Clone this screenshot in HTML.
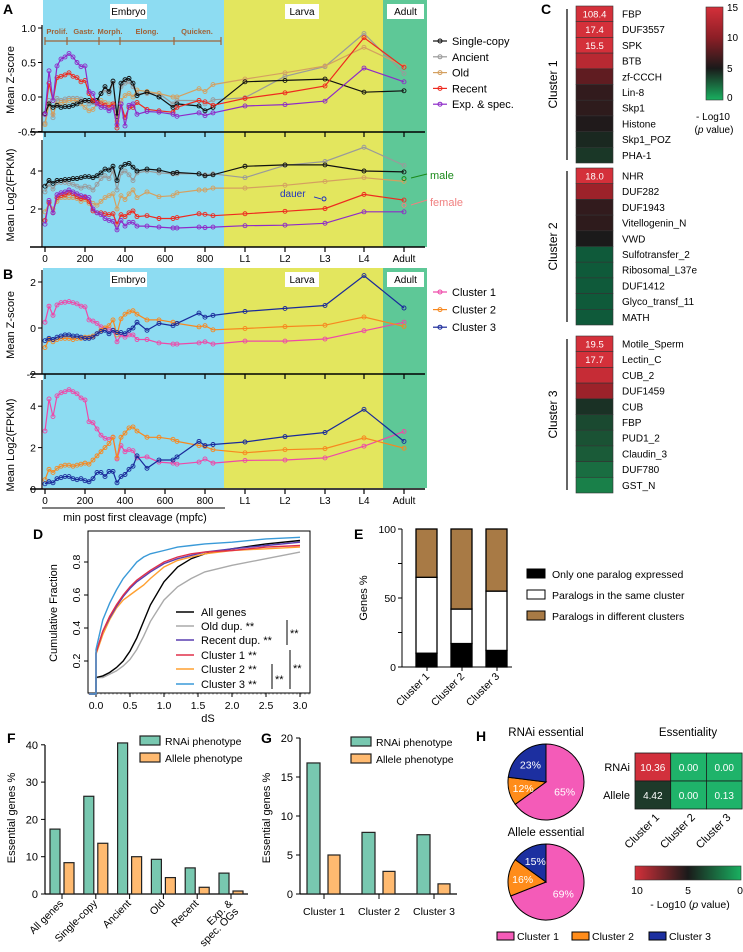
<!DOCTYPE html>
<html><head><meta charset="utf-8"><style>
body{margin:0;background:#fff;}
svg{display:block;font-family:"Liberation Sans",sans-serif;}
</style></head><body>
<svg id="fig" width="743" height="952" viewBox="0 0 743 952" xmlns="http://www.w3.org/2000/svg">
<g font-weight="bold" font-size="14">
<text x="3" y="14">A</text>
<text x="3" y="279">B</text>
<text x="541" y="14">C</text>
<text x="33" y="539">D</text>
<text x="354" y="539">E</text>
<text x="7" y="743">F</text>
<text x="261" y="743">G</text>
<text x="476" y="741">H</text>
</g>
</svg>
<script>
// ===== Panel A/B data =====
const embryoTimes=[0,20,40,60,80,100,120,140,160,180,200,220,240,260,280,300,320,340,360,380,400,420,440,460,510,570,640,660,770,800,840];
const stageLabels=["L1","L2","L3","L4","Adult"];
const xTickLabels=["0","200","400","600","800"];
const seriesANames=["Single-copy","Ancient","Old","Recent","Exp. & spec."];
const zSingle=[-0.24,-0.1,-0.15,-0.12,-0.15,-0.14,-0.14,-0.12,-0.1,-0.07,-0.05,-0.05,-0.06,-0.05,0.05,0.15,0.08,0.23,-0.28,0.2,0.25,0.27,0.2,0.02,0.07,0.0,-0.15,-0.1,-0.13,-0.2,-0.15,0.22,0.24,0.26,0.07,0.09];
const zAncient=[-0.38,-0.05,-0.3,-0.02,-0.05,-0.03,-0.02,-0.02,-0.02,-0.03,-0.05,-0.1,-0.08,-0.05,0.05,0.1,0.05,0.2,-0.3,0.15,0.2,0.22,0.15,0.05,0.05,0.05,-0.1,-0.05,-0.05,-0.1,-0.04,-0.01,0.3,0.44,0.92,0.34];
const zOld=[-0.4,-0.1,-0.25,-0.1,-0.08,-0.08,-0.05,-0.05,-0.05,-0.1,-0.15,-0.2,-0.18,-0.1,-0.05,-0.08,-0.1,-0.12,-0.35,-0.05,0.02,0.05,0.0,0.1,0.08,0.05,0.0,0.0,0.12,0.08,0.18,0.26,0.35,0.45,0.72,0.45];
const zRecent=[-0.25,0.2,-0.05,0.28,0.3,0.32,0.35,0.3,0.28,0.22,0.24,0.05,-0.05,-0.08,-0.1,-0.12,-0.15,-0.1,-0.45,-0.1,-0.3,-0.15,-0.15,-0.08,-0.18,-0.2,-0.22,-0.15,-0.05,-0.07,-0.12,-0.02,0.06,0.16,0.86,0.43];
const zExp=[-0.25,0.38,-0.05,0.45,0.55,0.58,0.63,0.58,0.5,0.44,0.45,0.08,0.05,-0.1,-0.15,-0.15,-0.2,-0.15,-0.4,-0.1,-0.42,-0.12,-0.1,-0.25,-0.21,-0.22,-0.25,-0.28,-0.23,-0.27,-0.23,-0.13,-0.11,-0.06,0.42,0.22];
const fSingle=[3.2,3.5,3.35,3.5,3.5,3.55,3.55,3.6,3.6,3.65,3.7,3.7,3.65,3.75,3.9,4.1,4.05,4.25,3.5,4.2,4.35,4.4,4.2,4.0,4.1,4.05,3.88,3.92,3.85,3.75,3.8,4.25,4.32,4.32,4.0,3.95];
const fAncient=[2.9,3.3,3.05,3.4,3.4,3.4,3.35,3.3,3.2,3.1,3.2,3.15,3.0,3.3,3.6,3.75,3.6,4.0,3.0,3.9,4.0,3.8,3.5,3.9,4.0,3.9,3.85,3.85,3.85,3.8,3.85,3.65,4.3,4.5,5.25,4.3];
const fOld=[1.85,2.3,2.0,2.4,2.6,2.6,2.6,2.6,2.55,2.4,2.5,2.3,2.3,2.2,2.4,2.6,2.7,2.8,2.0,2.7,2.5,2.8,3.0,2.6,2.9,2.65,2.7,2.85,3.0,3.0,3.1,3.1,3.25,3.45,3.65,3.45];
const fRecent=[1.4,2.35,1.8,2.6,2.7,2.75,2.85,2.8,2.65,2.55,2.6,2.4,1.9,1.8,1.8,1.75,1.7,1.75,1.2,1.7,1.6,1.8,1.9,1.6,1.65,1.5,1.5,1.55,1.75,1.72,1.65,1.75,1.88,2.02,2.77,2.47];
const fExp=[1.2,2.45,1.8,2.75,2.85,2.9,3.0,2.9,2.8,2.7,2.65,2.6,2.0,1.8,1.7,1.5,1.4,1.35,0.9,1.4,1.1,1.3,1.3,1.1,1.1,1.05,1.0,1.0,1.05,1.02,1.05,1.12,1.15,1.25,1.85,1.85];
const dauerValue=2.53, maleValue=3.6, femaleValue=2.2;
const seriesBNames=["Cluster 1","Cluster 2","Cluster 3"];
const zC1=[0.25,0.95,0.55,1.0,1.1,1.12,1.15,1.1,1.05,0.95,0.92,0.35,0.3,0.2,0.05,0.0,-0.05,-0.1,-0.6,-0.3,-0.4,-0.3,-0.3,-0.5,-0.5,-0.65,-0.7,-0.7,-0.65,-0.6,-0.7,-0.57,-0.57,-0.48,-0.12,0.25];
const zC2=[-0.85,-0.5,-0.6,-0.5,-0.45,-0.45,-0.45,-0.5,-0.45,-0.45,-0.4,-0.4,-0.35,-0.25,-0.1,0.0,0.1,0.35,-0.3,0.4,0.6,0.7,0.75,0.6,0.35,0.35,0.25,0.2,0.05,0.1,-0.08,-0.02,0.06,0.12,0.48,0.07];
const zC3=[-0.55,-0.45,-0.5,-0.4,-0.35,-0.3,-0.3,-0.35,-0.35,-0.4,-0.45,-0.45,-0.4,-0.25,-0.15,-0.1,-0.25,-0.1,-0.2,-0.2,-0.25,-0.1,0.0,0.25,-0.1,0.2,0.1,0.2,0.65,0.47,0.55,0.72,0.85,0.98,2.28,0.87];
const fC1=[2.8,4.35,3.5,4.5,4.65,4.7,4.8,4.7,4.6,4.4,4.3,3.25,3.2,2.9,2.6,2.45,2.4,2.5,1.45,2.1,1.8,1.9,1.85,1.5,1.55,1.3,1.25,1.2,1.3,1.45,1.25,1.38,1.4,1.5,2.07,2.78];
const fC2=[0.45,0.95,0.8,1.0,1.1,1.15,1.15,1.1,1.15,1.2,1.25,1.2,1.4,1.6,1.8,2.0,2.2,2.5,1.5,2.5,2.7,2.95,3.0,2.8,2.5,2.5,2.4,2.3,2.1,2.05,1.9,1.75,1.9,1.95,2.47,1.97];
const fC3=[0.25,0.35,0.3,0.5,0.55,0.6,0.6,0.5,0.45,0.5,0.4,0.35,0.5,0.8,0.8,0.6,0.85,0.85,0.3,0.6,0.7,0.95,1.1,1.6,1.0,1.4,1.4,1.55,2.3,2.1,2.15,2.27,2.53,2.73,3.85,2.3];
// ===== Panel C data =====
const domainsC1=["FBP","DUF3557","SPK","BTB","zf-CCCH","Lin-8","Skp1","Histone","Skp1_POZ","PHA-1"];
const pvalsC1=[108.4,17.4,15.5,13,8,6,5.8,5.2,4.5,4];
const domainsC2=["NHR","DUF282","DUF1943","Vitellogenin_N","VWD","Sulfotransfer_2","Ribosomal_L37e","DUF1412","Glyco_transf_11","MATH"];
const pvalsC2=[18.0,11,6,5.8,5,0.8,0.8,0.8,0.8,0.8];
const domainsC3=["Motile_Sperm","Lectin_C","CUB_2","DUF1459","CUB","FBP","PUD1_2","Claudin_3","DUF780","GST_N"];
const pvalsC3=[19.5,17.7,14,11,4.2,3.4,3.1,2.8,2.2,1.6];
// ===== Panel D data =====
const dsGrid=[0,0.1,0.2,0.3,0.4,0.5,0.6,0.7,0.8,1.0,1.2,1.4,1.6,2.0,2.5,3.0];
const cdfAll=[0.1,0.11,0.13,0.16,0.2,0.26,0.34,0.44,0.54,0.68,0.77,0.82,0.85,0.88,0.91,0.93];
const cdfOld=[0.1,0.1,0.12,0.14,0.17,0.21,0.27,0.35,0.44,0.57,0.65,0.7,0.74,0.78,0.82,0.86];
const cdfRecent=[0.25,0.38,0.46,0.53,0.59,0.64,0.68,0.71,0.74,0.79,0.82,0.84,0.86,0.88,0.9,0.92];
const cdfC1=[0.25,0.38,0.47,0.54,0.6,0.65,0.69,0.72,0.75,0.8,0.83,0.85,0.86,0.87,0.89,0.9];
const cdfC2=[0.24,0.36,0.45,0.52,0.57,0.6,0.63,0.66,0.7,0.77,0.81,0.83,0.85,0.87,0.88,0.89];
const cdfC3=[0.27,0.45,0.55,0.63,0.7,0.75,0.8,0.83,0.85,0.87,0.89,0.9,0.91,0.92,0.94,0.95];
const dLegend=["All genes","Old dup. **","Recent dup. **","Cluster 1  **","Cluster 2  **","Cluster 3  **"];
const dYTicks=[0.2,0.4,0.6,0.8];
const dXTicks=[0,0.5,1,1.5,2,2.5,3];
// ===== Panel E data =====
const eCats=["Cluster 1","Cluster 2","Cluster 3"];
const eOnlyOne=[10,17,12];
const eSame=[55,25,43];
const eDiff=[35,58,45];
const eLegend=["Only one paralog expressed","Paralogs in the same cluster","Paralogs in different clusters"];
// ===== Panel F/G data =====
const fCats=["All genes","Single-copy","Ancient","Old","Recent","Exp. &|spec. OGs"];
const fRNAi=[17.4,26.2,40.5,9.3,7.0,5.6];
const fAllele=[8.4,13.6,10.0,4.4,1.8,0.8];
const gCats=["Cluster 1","Cluster 2","Cluster 3"];
const gRNAi=[16.8,7.9,7.6];
const gAllele=[5.0,2.9,1.3];
// ===== Panel H data =====
const pieRNAi=[65,12,23];
const pieAllele=[69,16,15];
const essRows=["RNAi","Allele"];
const essRNAi=[10.36,0.00,0.00];
const essAllele=[4.42,0.00,0.13];

const NS="http://www.w3.org/2000/svg";
const svg=document.getElementById('fig');
function mk(tag,attrs,parent,txt){const e=document.createElementNS(NS,tag);for(const k in attrs)e.setAttribute(k,attrs[k]);if(txt!==undefined)e.textContent=txt;(parent||svg).appendChild(e);return e;}

// ---------- Panels A & B ----------
const stageX=[245,285,325,364,404];
function xT(i){return i<embryoTimes.length?45+0.2*embryoTimes[i]:stageX[i-embryoTimes.length];}
function bg(y0,y1,name){
  const g=mk('g',{});
  
  
  let r=mk('rect',{x:43,y:y0,width:181,height:y1-y0,fill:'#8ddcf2'},g);
  
  
  r=mk('rect',{x:224,y:y0,width:159,height:y1-y0,fill:'#e3e65e'},g);
  
  
  r=mk('rect',{x:383,y:y0,width:44,height:y1-y0,fill:'#5ec897'},g);
  
  
  [["Embryo",110,37],["Larva",285,34],["Adult",387,37]].forEach(s=>{
    const b=mk('rect',{x:s[1],y:y0+4,width:s[2],height:15,fill:'#fff'},g);
    
    
    const t=mk('text',{x:s[1]+s[2]/2,y:y0+15,'font-size':10,'text-anchor':'middle'},g,s[0]);
    
    
  });
}
bg(0,247,'panel-a-background');
bg(268,488,'panel-b-background');

const sb=mk('g',{stroke:'#a0643a','stroke-width':1.2});


mk('line',{x1:45,y1:41,x2:221,y2:41},sb);
[45,67,99,120,174,221].forEach(x=>mk('line',{x1:x,y1:37,x2:x,y2:45},sb));
[["Prolif.",57],["Gastr.",84],["Morph.",110],["Elong.",147],["Quicken.",197]].forEach(s=>{
  const t=mk('text',{x:s[1],y:34,'font-size':7.5,'font-weight':'bold',fill:'#a0643a','text-anchor':'middle'},svg,s[0]);
  
  
});

function yAxis(x,y0,y1,ticks,fn,title,ty,dec){
  const g=mk('g',{});
  
  
  mk('line',{x1:x,y1:y0,x2:x,y2:y1,stroke:'#000','stroke-width':1.2},g);
  ticks.forEach(v=>{const y=fn(v);mk('line',{x1:x-4,y1:y,x2:x,y2:y,stroke:'#000'},g);
    const t=mk('text',{x:x-6,y:y+4,'font-size':10.5,'text-anchor':'end'},g,dec?v.toFixed(1):String(v));
    
    });
  const tt=mk('text',{x:14,y:ty,'font-size':11,'text-anchor':'middle',transform:`rotate(-90 14 ${ty})`},g,title);
  
  
}
const yA1=v=>97-v*69, yA2=v=>247-v*19, yB1=v=>328-v*23, yB2=v=>489-v*20.7;
yAxis(42,25,132,[-0.5,0.0,0.5,1.0],yA1,'Mean Z-score',80,true);
yAxis(42,140,247,[2,4],yA2,'Mean Log2(FPKM)',195,false);
yAxis(42,270,374,[-2,0,2],yB1,'Mean Z-score',325,false);
yAxis(42,380,489,[0,2,4],yB2,'Mean Log2(FPKM)',445,false);

function xAxis(y,labels){
  const g=mk('g',{});
  
  
  mk('line',{x1:30,y1:y,x2:425,y2:y,stroke:'#000','stroke-width':1.5},g);
  const xs=[45,85,125,165,205].concat(stageX);
  const labs=xTickLabels.concat(stageLabels);
  xs.forEach((x,i)=>{mk('line',{x1:x,y1:y,x2:x,y2:y+5,stroke:'#000','stroke-width':1.2},g);
    if(labels){const t=mk('text',{x:x,y:y+15,'font-size':10,'text-anchor':'middle'},g,labs[i]);
    
    }});
}
xAxis(132,false);xAxis(247,true);xAxis(374,false);xAxis(489,true);
const xl=mk('text',{x:135,y:521,'font-size':11,'text-anchor':'middle'},svg,'min post first cleavage (mpfc)');


mk('line',{x1:42,y1:508,x2:225,y2:508,stroke:'#000'});

function series(vals,yf,color,name){
  const g=mk('g',{});
  
  
  const pts=vals.map((v,i)=>xT(i).toFixed(1)+','+yf(v).toFixed(1)).join(' ');
  mk('polyline',{points:pts,fill:'none',stroke:color,'stroke-width':1.2},g);
  vals.forEach((v,i)=>{const c=mk('circle',{cx:xT(i),cy:yf(v),r:2,fill:'none',stroke:color,'stroke-width':0.9},g);
    
    });
}
const colA=['#111','#9a9a9a','#d4a060','#ee2a1f','#8e2bc8'];
[zAncient,zOld,zSingle,zRecent,zExp].forEach((s,k)=>{const idx=[1,2,0,3,4][k];series(s,yA1,colA[idx],'zscore-'+seriesANames[idx].toLowerCase().replace(/[^a-z]+/g,'-'));});
[fAncient,fOld,fSingle,fRecent,fExp].forEach((s,k)=>{const idx=[1,2,0,3,4][k];series(s,yA2,colA[idx],'fpkm-'+seriesANames[idx].toLowerCase().replace(/[^a-z]+/g,'-'));});
const colB=['#ee48a8','#f7881f','#1a2a9a'];
[zC1,zC2,zC3].forEach((s,k)=>series(s,yB1,colB[k],'zscore-cluster-'+(k+1)));
[fC1,fC2,fC3].forEach((s,k)=>series(s,yB2,colB[k],'fpkm-cluster-'+(k+1)));
let e=mk('circle',{cx:324,cy:yA2(dauerValue),r:2,fill:'none',stroke:'#2030c0'});


e=mk('text',{x:280,y:yA2(dauerValue)-2,'font-size':10,fill:'#2030c0'},svg,'dauer');


mk('line',{x1:314,y1:yA2(dauerValue)-2,x2:321,y2:yA2(dauerValue),stroke:'#2030c0'});
e=mk('circle',{cx:404,cy:yA2(maleValue),r:2,fill:'none',stroke:'#1a8a1a'});


e=mk('circle',{cx:404,cy:yA2(femaleValue),r:2,fill:'none',stroke:'#f08080'});


e=mk('text',{x:430,y:179,'font-size':11,fill:'#1a8a1a'},svg,'male');


mk('line',{x1:427,y1:174,x2:411,y2:178,stroke:'#1a8a1a'});
e=mk('text',{x:430,y:206,'font-size':11,fill:'#f08080'},svg,'female');


mk('line',{x1:427,y1:200,x2:411,y2:205,stroke:'#f08080'});

function lineLegend(x,y0,dy,names,cols,nm){
  const g=mk('g',{});
  
  
  names.forEach((n,i)=>{const y=y0+i*dy;
    const it=mk('g',{},g);
    
    
    mk('line',{x1:x,y1:y,x2:x+14,y2:y,stroke:cols[i],'stroke-width':1.2},it);
    mk('circle',{cx:x+7,cy:y,r:2,fill:'none',stroke:cols[i]},it);
    mk('text',{x:x+19,y:y+4,'font-size':11},it,n);});
}
lineLegend(433,41,15.8,seriesANames,colA,'legend-a');
lineLegend(433,292,17.6,seriesBNames,colB,'legend-b');

// ---------- Panel C ----------
function heatColor(v){
  const t=Math.max(0,Math.min(15,v))/15;
  const stops=[[0,[25,176,96]],[0.33,[26,26,26]],[0.66,[140,30,38]],[1,[212,48,58]]];
  for(let i=1;i<stops.length;i++){if(t<=stops[i][0]){const a=stops[i-1],b=stops[i];const f=(t-a[0])/(b[0]-a[0]);
    const c=a[1].map((q,j)=>Math.round(q+(b[1][j]-q)*f));return `rgb(${c})`;}}
  return 'rgb(212,48,58)';
}
function greenish(v){return v<1?'#0f5a3a':heatColor(v);}
[[domainsC1,pvalsC1,6,'Cluster 1'],[domainsC2,pvalsC2,168,'Cluster 2'],[domainsC3,pvalsC3,336,'Cluster 3']].forEach((blk,bi)=>{
  const g=mk('g',{});
  
  
  const rh=15.7;
  blk[0].forEach((d,i)=>{const y=blk[2]+i*rh;
    const r=mk('rect',{x:576,y:y,width:37,height:rh,fill:greenish(blk[1][i]),stroke:'#333','stroke-width':0.6},g);
    
    
    if(blk[1][i]>15){const t=mk('text',{x:594.5,y:y+11.5,'font-size':9.5,fill:'#fff','text-anchor':'middle'},g,blk[1][i].toFixed(1));
      
      }
    const l=mk('text',{x:622,y:y+11.5,'font-size':10},g,d);
    
    });
  const yb=blk[2]+3, ye=blk[2]+10*rh-3;
  mk('line',{x1:567,y1:yb,x2:567,y2:ye,stroke:'#000','stroke-width':1.2},g);
  const cy=(yb+ye)/2;
  const ct=mk('text',{x:557,y:cy,'font-size':12,'text-anchor':'middle',transform:`rotate(-90 557 ${cy})`},g,blk[3]);
  
  
});
const defs=mk('defs',{});
const lg=mk('linearGradient',{id:'cbar',x1:0,y1:0,x2:0,y2:1},defs);
[[0,'#d4303a'],[0.33,'#8c1e26'],[0.66,'#1a1a1a'],[1,'#19b060']].forEach(s=>mk('stop',{offset:s[0],'stop-color':s[1]},lg));
const lg2=mk('linearGradient',{id:'hbar',x1:0,y1:0,x2:1,y2:0},defs);
[[0,'#d4303a'],[0.5,'#1a1a1a'],[1,'#19b060']].forEach(s=>mk('stop',{offset:s[0],'stop-color':s[1]},lg2));
e=mk('rect',{x:706,y:7,width:17,height:93,fill:'url(#cbar)',stroke:'#333','stroke-width':0.6});


[[15,11],[10,41],[5,72],[0,101]].forEach(s=>{const t=mk('text',{x:727,y:s[1],'font-size':10},svg,String(s[0]));
  
  });
e=mk('text',{x:713,y:120,'font-size':10,'text-anchor':'middle'},svg,'- Log10');


e=mk('text',{x:714,y:133,'font-size':10,'text-anchor':'middle'},svg,'');
e.innerHTML='(<tspan font-style="italic">p</tspan> value)';



// ---------- Panel D ----------
const dx=v=>96+v*68, dy=v=>694-v*165;
e=mk('rect',{x:88,y:531,width:222,height:162,fill:'none',stroke:'#000','stroke-width':1});


mk('line',{x1:88,y1:dy(0),x2:310,y2:dy(0),stroke:'#bbb','stroke-dasharray':'2,2'});
dYTicks.forEach(v=>{mk('line',{x1:84,y1:dy(v),x2:88,y2:dy(v),stroke:'#000'});
  const t=mk('text',{x:80,y:dy(v),'font-size':10.5,'text-anchor':'middle',transform:`rotate(-90 80 ${dy(v)})`},svg,v.toFixed(1));
  
  });
dXTicks.forEach(v=>{mk('line',{x1:dx(v),y1:693,x2:dx(v),y2:697,stroke:'#000'});
  const t=mk('text',{x:dx(v),y:709,'font-size':10.5,'text-anchor':'middle'},svg,v.toFixed(1));
  
  });
e=mk('text',{x:208,y:722,'font-size':11,'text-anchor':'middle'},svg,'dS');


e=mk('text',{x:57,y:613,'font-size':11,'text-anchor':'middle',transform:'rotate(-90 57 613)'},svg,'Cumulative Fraction');


const dCols=['#000','#aaa','#5a3fb0','#e0304a','#ffa030','#3a9ad8'];
[cdfOld,cdfAll,cdfC2,cdfRecent,cdfC1,cdfC3].forEach((c,k)=>{const ci=[1,0,4,2,3,5][k];
  let pts=`${dx(-0.1)},${dy(0)} ${dx(0)},${dy(0)} `+c.map((v,i)=>dx(dsGrid[i]).toFixed(1)+','+dy(v).toFixed(1)).join(' ');
  const p=mk('polyline',{points:pts,fill:'none',stroke:dCols[ci],'stroke-width':1.4});
  
  });
const dLy=[612,626,640,655,669,684];
dLegend.forEach((n,i)=>{const it=mk('g',{});
  
  
  mk('line',{x1:176,y1:dLy[i],x2:194,y2:dLy[i],stroke:dCols[i],'stroke-width':1.5},it);
  mk('text',{x:201,y:dLy[i]+4,'font-size':11},it,n);});
mk('line',{x1:287,y1:620,x2:287,y2:645,stroke:'#000'});
mk('text',{x:290,y:637,'font-size':11},svg,'**');
mk('line',{x1:272,y1:664,x2:272,y2:689,stroke:'#000'});
mk('text',{x:275,y:683,'font-size':11},svg,'**');
mk('line',{x1:290,y1:650,x2:290,y2:689,stroke:'#000'});
mk('text',{x:293,y:672,'font-size':11},svg,'**');

// ---------- Panel E ----------
const ey=v=>667-v*1.38;
mk('line',{x1:402,y1:529,x2:402,y2:667,stroke:'#000'});
[0,25,50,75,100].forEach(v=>{mk('line',{x1:398,y1:ey(v),x2:402,y2:ey(v),stroke:'#000'});
  if(v%50===0){const t=mk('text',{x:396,y:ey(v)+4,'font-size':10.5,'text-anchor':'end'},svg,String(v));
  
  }});
e=mk('text',{x:367,y:598,'font-size':11,'text-anchor':'middle',transform:'rotate(-90 367 598)'},svg,'Genes %');


const eX=[416,451,486];
eCats.forEach((c,i)=>{let base=0;
  [[eOnlyOne[i],'#000'],[eSame[i],'#fff'],[eDiff[i],'#a87a45']].forEach(s=>{
    const r=mk('rect',{x:eX[i],y:ey(base+s[0]),width:21,height:s[0]*1.38,fill:s[1],stroke:'#000','stroke-width':1.3});
    
    
    base+=s[0];});
  const cx=eX[i]+11;
  mk('line',{x1:cx,y1:667,x2:cx,y2:671,stroke:'#000'});
  const t=mk('text',{x:cx+3,y:677,'font-size':10.5,'text-anchor':'end',transform:`rotate(-45 ${cx+3} 677)`},svg,c);
  
  });
mk('line',{x1:402,y1:667,x2:512,y2:667,stroke:'#000'});
['#000','#fff','#a87a45'].forEach((c,i)=>{const y=574+i*21;
  const it=mk('g',{});
  
  
  mk('rect',{x:527,y:y-5,width:18,height:9,fill:c,stroke:'#000'},it);
  mk('text',{x:552,y:y+4,'font-size':10.5},it,eLegend[i]);});

// ---------- Panel F ----------
const fy=v=>894-v*3.73;
mk('line',{x1:45,y1:745,x2:45,y2:894,stroke:'#000','stroke-width':1.2});
mk('line',{x1:45,y1:894,x2:248,y2:894,stroke:'#000','stroke-width':1.2});
[0,10,20,30,40].forEach(v=>{mk('line',{x1:41,y1:fy(v),x2:45,y2:fy(v),stroke:'#000'});
  const t=mk('text',{x:38,y:fy(v)+4,'font-size':11,'text-anchor':'end'},svg,String(v));
  
  });
e=mk('text',{x:15,y:818,'font-size':11,'text-anchor':'middle',transform:'rotate(-90 15 818)'},svg,'Essential genes %');


fCats.forEach((c,i)=>{const cx=62+i*33.8;
  let r=mk('rect',{x:cx-12,y:fy(fRNAi[i]),width:10,height:fRNAi[i]*3.73,fill:'#78c8b0',stroke:'#222','stroke-width':1.2});
  
  
  r=mk('rect',{x:cx+2,y:fy(fAllele[i]),width:10,height:fAllele[i]*3.73,fill:'#ffba70',stroke:'#222','stroke-width':1.2});
  
  
  mk('line',{x1:cx,y1:894,x2:cx,y2:899,stroke:'#000'});
  const parts=c.split('|');
  parts.forEach((p,j)=>{const px=cx+2+j*6, py=904+j*8;
    const t=mk('text',{x:px,y:py,'font-size':10.5,'text-anchor':'end',transform:`rotate(-45 ${px} ${py})`},svg,p);
    
    });});
function barLegend(x,y){[['RNAi phenotype','#78c8b0'],['Allele phenotype','#ffba70']].forEach((s,i)=>{
  const it=mk('g',{});
  
  
  mk('rect',{x:x,y:y+i*17-5,width:20,height:9,fill:s[1],stroke:'#222','stroke-width':1.2},it);
  mk('text',{x:x+25,y:y+i*17+4,'font-size':10.5},it,s[0]);});}
barLegend(140,741);
// ---------- Panel G ----------
const gy=v=>894-v*7.8;
mk('line',{x1:300,y1:738,x2:300,y2:894,stroke:'#000','stroke-width':1.2});
mk('line',{x1:300,y1:894,x2:457,y2:894,stroke:'#000','stroke-width':1.2});
[0,5,10,15,20].forEach(v=>{mk('line',{x1:296,y1:gy(v),x2:300,y2:gy(v),stroke:'#000'});
  const t=mk('text',{x:293,y:gy(v)+4,'font-size':11,'text-anchor':'end'},svg,String(v));
  
  });
e=mk('text',{x:270,y:818,'font-size':11,'text-anchor':'middle',transform:'rotate(-90 270 818)'},svg,'Essential genes %');


gCats.forEach((c,i)=>{const cx=324+i*55;
  let r=mk('rect',{x:cx-17,y:gy(gRNAi[i]),width:13,height:gRNAi[i]*7.8,fill:'#78c8b0',stroke:'#222','stroke-width':1.2});
  
  
  r=mk('rect',{x:cx+4,y:gy(gAllele[i]),width:12,height:gAllele[i]*7.8,fill:'#ffba70',stroke:'#222','stroke-width':1.2});
  
  
  mk('line',{x1:cx,y1:894,x2:cx,y2:899,stroke:'#000'});
  const t=mk('text',{x:cx,y:915,'font-size':10.5,'text-anchor':'middle'},svg,c);
  
  });
barLegend(351,742);

// ---------- Panel H ----------
const pieCols=['#f45bb8','#ff8c1a','#1c2fa0'];
function pie(cx,cy,r,vals,title,ty,nm){
  const g=mk('g',{});
  
  
  const tt=mk('text',{x:cx,y:ty,'font-size':11.5,'text-anchor':'middle'},g,title);
  
  
  const tot=vals.reduce((a,b)=>a+b,0);let a0=-Math.PI/2;
  vals.forEach((v,i)=>{const a1=a0+v/tot*2*Math.PI;
    const x0=cx+r*Math.cos(a0),y0=cy+r*Math.sin(a0),x1=cx+r*Math.cos(a1),y1=cy+r*Math.sin(a1);
    const p=mk('path',{d:`M${cx},${cy} L${x0},${y0} A${r},${r} 0 ${a1-a0>Math.PI?1:0} 1 ${x1},${y1} Z`,fill:pieCols[i],stroke:'#000','stroke-width':1},g);
    
    
    const am=(a0+a1)/2, rr=i===0?0.55*r:0.62*r;
    const t=mk('text',{x:cx+rr*Math.cos(am),y:cy+rr*Math.sin(am)+4,'font-size':10.5,fill:'#fff','text-anchor':'middle'},g,v+'%');
    
    
    a0=a1;});
}
pie(546,782,38,pieRNAi,'RNAi essential',736,'pie-rnai');
pie(546,882,38,pieAllele,'Allele essential',836,'pie-allele');
['Cluster 1','Cluster 2','Cluster 3'].forEach((n,i)=>{const x=[497,572,649][i];
  const it=mk('g',{});
  
  
  mk('rect',{x:x,y:932,width:17,height:8,fill:pieCols[i],stroke:'#000'},it);
  mk('text',{x:x+20,y:940,'font-size':10.5},it,n);});
e=mk('text',{x:688,y:736,'font-size':11.5,'text-anchor':'middle'},svg,'Essentiality');


function essColor(v){return v>8?'#d2303c':(v>3?'#1e3a2a':'#1fb36a');}
[essRNAi,essAllele].forEach((row,ri)=>{
  const lt=mk('text',{x:630,y:753+ri*28+18,'font-size':11,'text-anchor':'end'},svg,essRows[ri]);
  
  
  row.forEach((v,ci)=>{const x=635+ci*35.7,y=753+ri*28;
    const r=mk('rect',{x:x,y:y,width:35.7,height:28,fill:essColor(v),stroke:'#1a1a1a','stroke-width':0.8});
    
    
    const t=mk('text',{x:x+17.8,y:y+18,'font-size':10,fill:'#fff','text-anchor':'middle'},svg,v.toFixed(2));
    
    });});
['Cluster 1','Cluster 2','Cluster 3'].forEach((n,i)=>{const x=660+i*35.7;
  const t=mk('text',{x:x,y:818,'font-size':11,'text-anchor':'end',transform:`rotate(-45 ${x} 818)`},svg,n);
  
  });
e=mk('rect',{x:635,y:866,width:106,height:14,fill:'url(#hbar)',stroke:'#333','stroke-width':0.6});


[['10',637],['5',688],['0',740]].forEach(s=>{const t=mk('text',{x:s[1],y:894,'font-size':10.5,'text-anchor':'middle'},svg,s[0]);
  
  });
e=mk('text',{x:690,y:908,'font-size':10.5,'text-anchor':'middle'},svg,'');
e.innerHTML='- Log10 (<tspan font-style="italic">p</tspan> value)';


</script>
</body></html>
